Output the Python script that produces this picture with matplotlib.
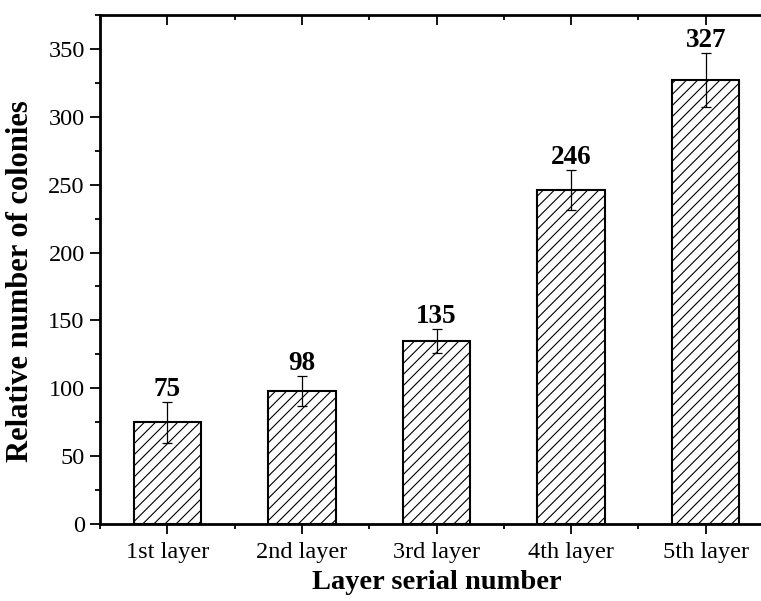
import numpy as np
import matplotlib.pyplot as plt
from matplotlib.ticker import MultipleLocator, FixedLocator

layers = ["1st layer", "2nd layer", "3rd layer", "4th layer", "5th layer"]
colonies = [75, 98, 135, 246, 327]
errors = [15, 11, 9, 15, 20]

plt.rcParams["font.family"] = ["Liberation Serif", "DejaVu Serif"]
plt.rcParams["hatch.linewidth"] = 0.8

fig = plt.figure(figsize=(7.61, 6.01), dpi=100)
ax = fig.add_axes([100 / 761, 77 / 601, 673 / 761, 509 / 601])

x = np.arange(len(layers))
ax.bar(x, colonies, width=0.5, color="white", edgecolor="black",
       linewidth=1.5, hatch="///", zorder=2)
ax.errorbar(x, colonies, yerr=errors, fmt="none", ecolor="black",
            elinewidth=0.9, capsize=3.6, capthick=0.9, zorder=3)

for xi, v, e in zip(x, colonies, errors):
    ax.annotate(str(v), (xi, v + e), xytext=(0, 0), textcoords="offset points",
                ha="center", va="bottom", fontsize=19.5, fontweight="bold")

ax.set_xlim(-0.5, len(layers) - 0.5)
ax.set_ylim(0, 375)
ax.set_xticks(x)
ax.set_xticklabels(layers)
ax.xaxis.set_minor_locator(FixedLocator(np.arange(-0.5, len(layers), 1.0)))
ax.yaxis.set_major_locator(MultipleLocator(50))
ax.yaxis.set_minor_locator(MultipleLocator(25))

ax.tick_params(axis="both", which="major", direction="out", length=7,
               width=1.3, labelsize=17.5)
ax.tick_params(axis="both", which="minor", direction="out", length=3.6,
               width=1.3)
ax.tick_params(axis="both", which="both", top=True, right=True)
ax.tick_params(axis="x", which="both", pad=6)
ax.tick_params(axis="y", which="both", pad=4)

# mirrored ticks on the top/right point inward
for tk in ax.xaxis.get_major_ticks() + ax.xaxis.get_minor_ticks():
    tk.tick2line.set_marker(3)
for tk in ax.yaxis.get_major_ticks() + ax.yaxis.get_minor_ticks():
    tk.tick2line.set_marker(0)

for sp in ax.spines.values():
    sp.set_linewidth(2)

ax.set_xlabel("Layer serial number", fontsize=20.5, fontweight="bold", labelpad=5)
ax.set_ylabel("Relative number of colonies", fontsize=22, fontweight="bold")
ax.yaxis.set_label_coords(-0.097, 0.478)

fig.savefig("out.png", dpi=100)
